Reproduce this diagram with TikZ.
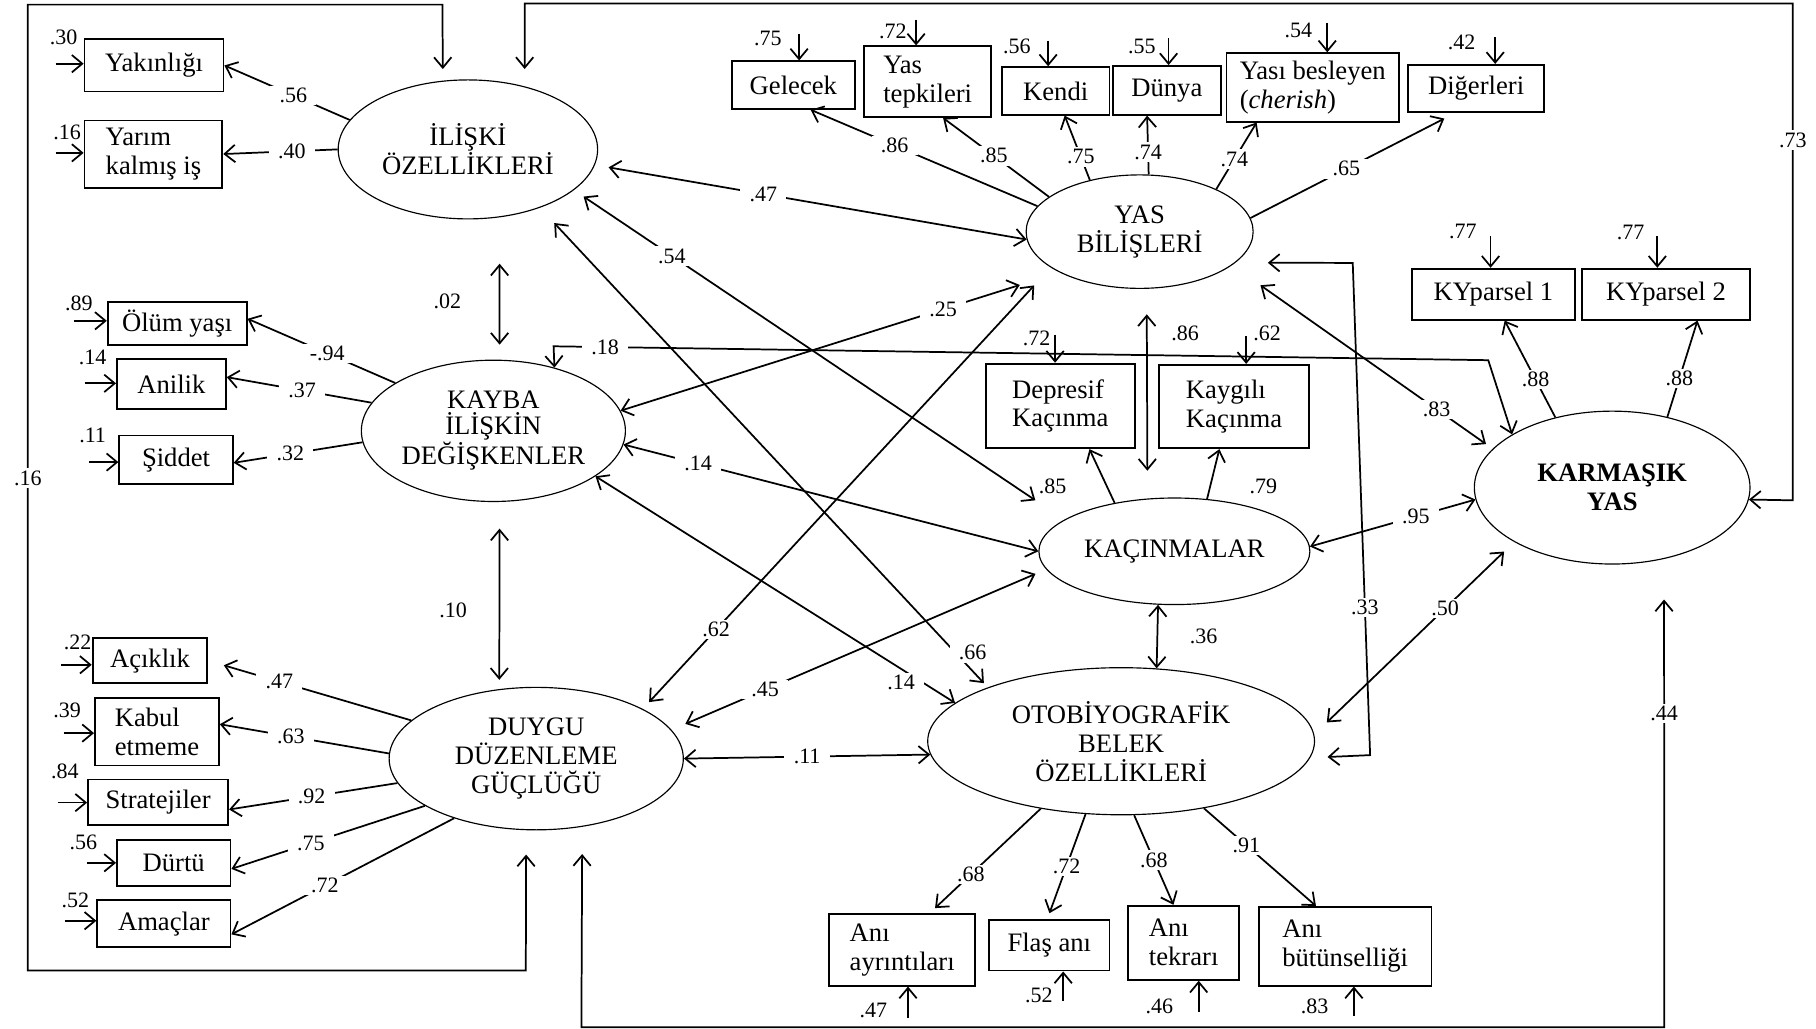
\documentclass[tikz,border=0pt]{standalone}
\usepackage{fontspec}
\setmainfont{Liberation Serif}
\usetikzlibrary{shapes.geometric,arrows.meta}
\begin{document}
\begin{tikzpicture}[->, >={Straight Barb[length=4.5pt,width=7.5pt]}, line width=0.75pt,
    x=0.5pt, y=-0.5pt,
    lat/.style={ellipse, draw, line width=0.5pt, align=center, inner sep=0pt, font=\fontsize{11.5}{12.5}\selectfont},
    obs/.style={rectangle, draw, line width=0.8pt, inner sep=2pt, font=\fontsize{11.5}{12.5}\selectfont},
    num/.style={fill=white, inner xsep=4pt, inner ysep=1pt, font=\fontsize{9.5}{10}\selectfont},
    res/.style={inner sep=0pt, font=\fontsize{9.5}{10}\selectfont}]
    \useasboundingbox (0,0) rectangle (1568,888);

    % latent variables
    \node[lat, minimum width=112pt, minimum height=60pt] (ili) at (404,129) {İLİŞKİ\\ÖZELLİKLERİ};
    \node[lat, minimum width=114pt, minimum height=61pt, font=\fontsize{11.5}{11}\selectfont] (kay) at (426,372) {KAYBA\\İLİŞKİN\\DEĞİŞKENLER};
    \node[lat, minimum width=127pt, minimum height=61.5pt] (duy) at (463,655) {DUYGU\\DÜZENLEME\\GÜÇLÜĞÜ};
    \node[lat, minimum width=98pt, minimum height=49pt] (yas) at (984,200) {YAS\\BİLİŞLERİ};
    \node[lat, minimum width=117pt, minimum height=46pt] (kac) at (1014,476) {KAÇINMALAR};
    \node[lat, minimum width=167pt, minimum height=63.5pt] (oto) at (968,640) {OTOBİYOGRAFİK\\BELEK\\ÖZELLİKLERİ};
    \node[lat, minimum width=119pt, minimum height=66pt, font=\bfseries\fontsize{11.5}{12.5}\selectfont] (kar) at (1392,421) {KARMAŞIK\\YAS};

    % observed variables
    \node[obs, minimum width=60pt, minimum height=22.5pt] (yak) at (133,56.5) {Yakınlığı};
    \node[obs, minimum width=59.5pt, minimum height=29pt, align=left] (yar) at (132.5,133) {Yarım\\kalmış iş};
    \node[obs, minimum width=60pt, minimum height=18.5pt] (olu) at (153,279.5) {Ölüm yaşı};
    \node[obs, minimum width=47pt, minimum height=21.5pt] (ani) at (148,331.5) {Anilik};
    \node[obs, minimum width=49pt, minimum height=21pt] (sid) at (152,397) {Şiddet};
    \node[obs, minimum width=49.5pt, minimum height=19.5pt] (aci) at (129.5,570.5) {Açıklık};
    \node[obs, minimum width=53.5pt, minimum height=29pt, align=left] (kab) at (135.5,632) {Kabul\\etmeme};
    \node[obs, minimum width=60.5pt, minimum height=19.5pt] (str) at (136.5,692.5) {Stratejiler};
    \node[obs, minimum width=49pt, minimum height=20pt] (dur) at (150,745) {Dürtü};
    \node[obs, minimum width=57.5pt, minimum height=20.5pt] (ama) at (141.5,797.5) {Amaçlar};
    \node[obs, minimum width=53pt, minimum height=20.5pt] (gel) at (685,73.5) {Gelecek};
    \node[obs, minimum width=55pt, minimum height=30.5pt, align=left] (yte) at (801,70.5) {Yas\\tepkileri};
    \node[obs, minimum width=46.5pt, minimum height=20.5pt] (ken) at (911.5,78.5) {Kendi};
    \node[obs, minimum width=46.5pt, minimum height=21pt] (dun) at (1007.5,78) {Dünya};
    \node[obs, minimum width=74.5pt, minimum height=29.5pt, align=left] (ybe) at (1133.5,75.5) {Yası besleyen\\(\textit{cherish})};
    \node[obs, minimum width=58.5pt, minimum height=20.5pt] (dig) at (1274.5,76.5) {Diğerleri};
    \node[obs, minimum width=70.5pt, minimum height=22pt] (ky1) at (1289.5,254) {KYparsel 1};
    \node[obs, minimum width=72.5pt, minimum height=22pt] (ky2) at (1438.5,254) {KYparsel 2};
    \node[obs, minimum width=64.5pt, minimum height=36.5pt, align=left] (dep) at (915.5,350.5) {Depresif\\Kaçınma};
    \node[obs, minimum width=64.5pt, minimum height=36pt, align=left] (kyg) at (1065.5,351) {Kaygılı\\Kaçınma};
    \node[obs, minimum width=63pt, minimum height=31pt, align=left] (aay) at (779,820) {Anı\\ayrıntıları};
    \node[obs, minimum width=52pt, minimum height=22pt] (fla) at (906,816) {Flaş anı};
    \node[obs, minimum width=48pt, minimum height=32pt, align=left] (ate) at (1022,814) {Anı\\tekrarı};
    \node[obs, minimum width=74.5pt, minimum height=34pt, align=left] (abu) at (1161.5,817) {Anı\\bütünselliği};

    % error terms
    \coordinate (eyak) at (48,55);   \node[res] (ryak) at (55,32) {.30};
    \coordinate (eyar) at (48,132);  \node[res] (ryar) at (58,114) {.16};
    \coordinate (eolu) at (64,277);  \node[res] (rolu) at (68,262) {.89};
    \coordinate (eani) at (73,331);  \node[res] (rani) at (80,309) {.14};
    \coordinate (esid) at (77,399);  \node[res] (rsid) at (80,376) {.11};
    \coordinate (eaci) at (53,574);  \node[res] (raci) at (67,555) {.22};
    \coordinate (ekab) at (55,633);  \node[res] (rkab) at (58,613) {.39};
    \coordinate (estr) at (50,693);  \node[res] (rstr) at (56,666) {.84};
    \coordinate (edur) at (75,745);  \node[res] (rdur) at (72,727) {.56};
    \coordinate (eama) at (56,795);  \node[res] (rama) at (65,777) {.52};
    \path (eyak) edge (eyak -| yak.west);
    \path (eyar) edge (eyar -| yar.west);
    \path (eolu) edge (eolu -| olu.west);
    \path (eani) edge (eani -| ani.west);
    \path (esid) edge (esid -| sid.west);
    \path (eaci) edge (eaci -| aci.west);
    \path (ekab) edge (ekab -| kab.west);
    \path (estr) edge (estr -| str.west);
    \path (edur) edge (edur -| dur.west);
    \path (eama) edge (eama -| ama.west);

    \coordinate (egel) at (690,29);   \node[res] (rgel) at (663,33) {.75};
    \coordinate (eyte) at (791,17);   \node[res] (ryte) at (771,27) {.72};
    \coordinate (eken) at (905,35);   \node[res] (rken) at (878,40) {.56};
    \coordinate (edun) at (1009,33);  \node[res] (rdun) at (986,40) {.55};
    \coordinate (eybe) at (1146,20);  \node[res] (rybe) at (1121,26) {.54};
    \coordinate (edig) at (1291,32);  \node[res] (rdig) at (1262,37) {.42};
    \coordinate (eky1) at (1287,204); \node[res] (rky1) at (1263,200) {.77};
    \coordinate (eky2) at (1431,204); \node[res] (rky2) at (1408,201) {.77};
    \coordinate (edep) at (911,289);  \node[res] (rdep) at (895,292) {.72};
    \coordinate (ekyg) at (1076,290); \node[res] (rkyg) at (1094,288) {.62};
    \path (egel) edge (egel |- gel.north);
    \path (eyte) edge (eyte |- yte.north);
    \path (eken) edge (eken |- ken.north);
    \path (edun) edge (edun |- dun.north);
    \path (eybe) edge (eybe |- ybe.north);
    \path (edig) edge (edig |- dig.north);
    \path (eky1) edge (eky1 |- ky1.north);
    \path (eky2) edge (eky2 |- ky2.north);
    \path (edep) edge (edep |- dep.north);
    \path (ekyg) edge (ekyg |- kyg.north);

    \coordinate (eaay) at (784,879);  \node[res] (raay) at (754,872) {.47};
    \coordinate (efla) at (918,864);  \node[res] (rfla) at (897,859) {.52};
    \coordinate (eate) at (1035,874); \node[res] (rate) at (1001,869) {.46};
    \coordinate (eabu) at (1169,877); \node[res] (rabu) at (1135,869) {.83};
    \path (eaay) edge (eaay |- aay.south);
    \path (efla) edge (efla |- fla.south);
    \path (eate) edge (eate |- ate.south);
    \path (eabu) edge (eabu |- abu.south);

    % loadings
    \path (ili.166) edge node[num,pos=.45]{.56} (yak.east);
    \path (ili.180) edge node[num,pos=.4]{.40} (yar.east);
    \path (kay.154) edge node[num,pos=.46]{-.94} (olu.4);
    \path (kay.167) edge node[num,pos=.48]{.37} (ani.7);
    \path (kay.185) edge node[num,pos=.56]{.32} (sid.-3);
    \path (duy.163) edge[shorten >=7pt] node[num,pos=.65]{.47} (aci.east);
    \path (duy.178) edge node[num,pos=.58]{.63} (kab.7);
    \path (duy.190) edge node[num,pos=.51]{.92} (str.-6);
    \path (duy.203) edge node[num,pos=.59]{.75} (dur.-6);
    \path (duy.216) edge node[num,pos=.58]{.72} (ama.-9);
    \path (yas.166) edge node[num,pos=.63]{.86} (gel.-55);
    \path (yas.159) edge node[num,pos=.52]{.85} (yte.-67);
    \path (yas.134) edge node[num,pos=.36]{.75} (ken.-70);
    \path (yas.81) edge node[num,pos=.38]{.74} (dun.-128);
    \path (yas.29) edge node[num,pos=.45]{.74} (ybe.-148);
    \path (yas.7) edge[shorten >=5pt] node[num,pos=.47]{.65} (dig.-131);
    \path (kar.129) edge node[num,pos=.39]{.88} (ky1.-67);
    \path (kar.52) edge node[num,pos=.4]{.88} (ky2.-40);
    \path (kac.141) edge node[res,pos=.3,xshift=-23.5pt]{.85} (dep.-56);
    \path (kac.58) edge node[res,pos=.25,xshift=23pt]{.79} (kyg.-109);
    \path (oto.220) edge[shorten >=3pt] node[num,pos=.63]{.68} (aay.53);
    \path (oto.244) edge[shorten >=2.5pt] node[num,pos=.5]{.72} (fla.94);
    \path (oto.-80) edge node[num,pos=.5]{.68} (ate.105);
    \path (oto.-39) edge node[num,pos=.38]{.91} (abu.126);

    % structural paths
    \path (ili.-65) edge[<->, shorten <=20pt, shorten >=6.5pt] node[res,pos=.59,xshift=-22.5pt]{.02} (kay.85);
    \path (kay.-85) edge[<->, shorten <=11.5pt, shorten >=4pt] node[res,pos=.58,xshift=-20pt]{.10} (duy.118);
    \path (ili.-7) edge[<->, shorten <=6pt] node[num,pos=.39]{.47} (yas.184);
    \path (ili.-21) edge[<->, shorten <=5pt, shorten >=15pt] node[num,pos=.2]{.54} (kac.164);
    \path (ili.-39) edge[<->, shorten <=9pt, shorten >=2.5pt] node[num,pos=.94,xshift=5pt,yshift=2.5pt]{.66} (oto.158);
    \path (kay.-24) edge[<->] node[num,pos=.85,yshift=-6pt]{.14} (oto.167);
    \path (kay.-6) edge[<->] node[num,pos=.18]{.14} (kac.180);
    \path (kay.9) edge[<->, shorten >=18pt] node[num,pos=.735]{.25} (yas.207);
    \path (duy.25) edge[<->, shorten <=4pt, shorten >=10.5pt] node[num,pos=.18]{.62} (yas.202);
    \path (duy.12) edge[<->, shorten <=6.5pt, shorten >=5pt] node[num,pos=.25]{.45} (kac.188);
    \path (duy.0) edge[<->] node[num,pos=.5]{.11} (oto.184);
    \path (yas.-83) edge[<->, shorten <=11pt, shorten >=12pt] node[res,pos=.21,xshift=16.5pt]{.86} (kac.117);
    \path (kac.253) edge[<->] node[res,pos=.5,xshift=20pt]{.36} (oto.64);
    \path (kac.2) edge[<->] node[num,pos=.64]{.95} (kar.185);
    \path (oto.2) edge[<->, shorten <=7.5pt, shorten >=6pt] node[num,pos=.655]{.50} (kar.209);
    \path (yas.-20) edge[<->, shorten <=15pt, shorten >=3.5pt] node[num,pos=.785]{.83} (kar.162);

    \coordinate (c18a) at (478,299);
    \coordinate (c18b) at (1285,311);
    \draw[<->] (kay.46) -- (c18a) -- node[num,pos=.055]{.18} (c18b) -- (kar.152);

    \coordinate (c33a) at (1168,227);
    \coordinate (c33b) at (1183,652);
    \draw[<->, shorten <=14pt, shorten >=7.5pt] (yas.-18) -- (c33a) -- node[num,pos=.7]{.33} (c33b) -- (oto.-5);

    % frames round the picture
    \coordinate (c73a) at (453,3);
    \coordinate (c73b) at (1548,3);
    \coordinate (c73c) at (1548,432);
    \draw[<->, shorten <=7.5pt] (ili.48) -- (c73a) -- (c73b) -- node[num,pos=.275]{.73} (c73c) -- (kar.-5);

    \coordinate (c16a) at (382,4);
    \coordinate (c16b) at (24,4);
    \coordinate (c16c) at (24,838);
    \coordinate (c16d) at (454,838);
    \draw[<->, shorten <=5pt, shorten >=10.5pt] (ili.110) -- (c16a) -- (c16b) -- node[num,pos=.49]{.16} (c16c) -- (c16d) -- (duy.262);

    \coordinate (c44a) at (502,887);
    \coordinate (c44b) at (1437,887);
    \draw[<->, shorten <=11.75pt, shorten >=17.5pt] (duy.-56) -- (c44a) -- (c44b) -- node[num,pos=.67]{.44} (kar.-54);
\end{tikzpicture}
\end{document}
